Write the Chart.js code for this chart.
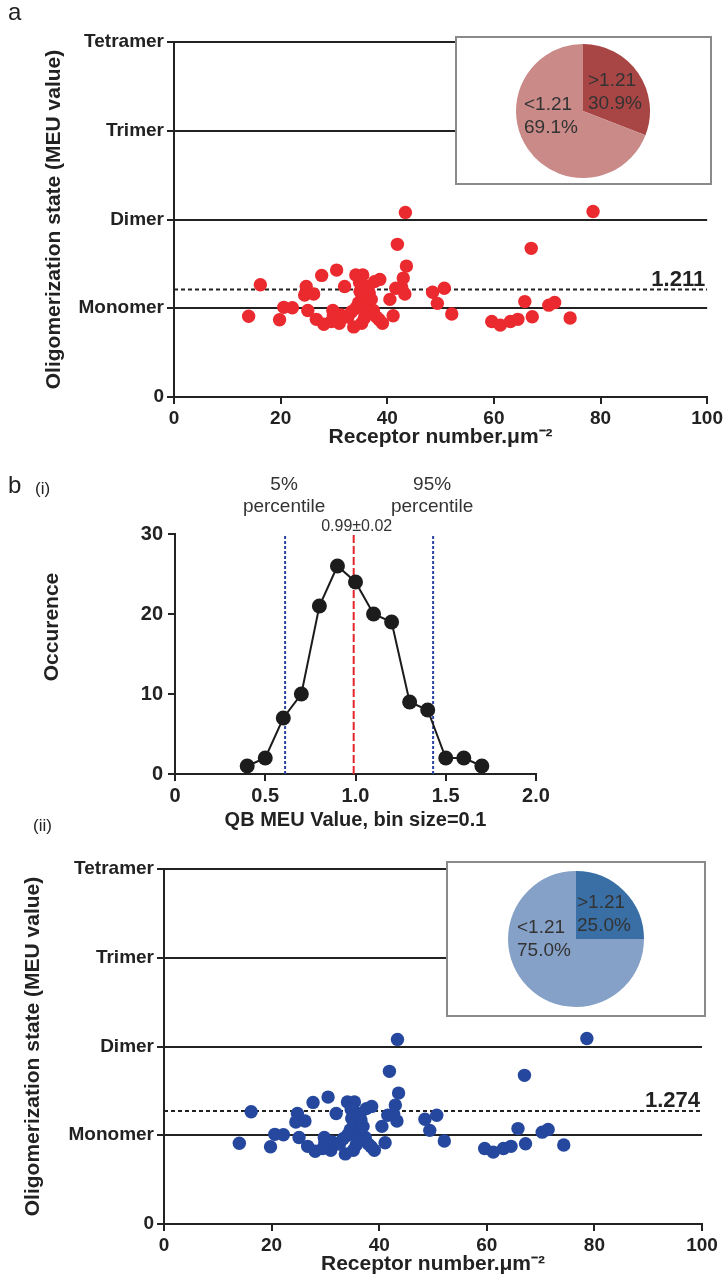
<!DOCTYPE html>
<html><head><meta charset="utf-8">
<script src="https://cdn.jsdelivr.net/npm/chart.js@4/dist/chart.umd.min.js"></script>
<style>
html,body{margin:0;padding:0;background:#fff;overflow:hidden;width:726px;height:1275px;}
#wrap{position:relative;width:726px;height:1275px;font-family:"Liberation Sans",Arial,sans-serif;color:#222;}
canvas{position:absolute;}
.box{position:absolute;border:2px solid #8a8a8a;background:#fff;box-sizing:border-box;}
.lbl{position:absolute;font-family:"Liberation Sans",Arial,sans-serif;color:#222;line-height:1;white-space:nowrap;}
</style></head><body>
<div id="wrap">
  <canvas id="cA" width="726" height="460" style="left:0;top:0"></canvas>
  <div class="box" style="left:455px;top:36px;width:257px;height:149px"></div>
  <canvas id="pA" width="140" height="140" style="left:513px;top:41px"></canvas>

  <canvas id="cH" width="726" height="366" style="left:0;top:470px"></canvas>

  <canvas id="cB" width="726" height="440" style="left:0;top:845px"></canvas>
  <div class="box" style="left:446px;top:861px;width:260px;height:156px"></div>
  <canvas id="pB" width="140" height="140" style="left:506px;top:869px"></canvas>

  <div class="lbl" style="left:8px;top:0px;font-size:24px">a</div>
  <div class="lbl" style="left:8px;top:473px;font-size:24px">b</div>
  <div class="lbl" style="left:35px;top:480px;font-size:17px">(i)</div>
  <div class="lbl" style="left:33px;top:817px;font-size:17px">(ii)</div>
</div>
<script>
// ---------- DATA ----------
const receptorDensity = [14.0,16.2,19.8,20.6,22.2,24.8,24.5,26.2,25.1,26.7,27.7,28.1,29.8,29.5,31.0,31.3,30.5,32.0,33.7,34.1,
  35.4,34.1,35.1,34.9,35.7,36.0,36.6,37.4,37.6,38.6,38.5,39.1,41.1,40.5,41.6,41.9,43.0,43.6,43.4,43.3,
  48.5,49.4,50.7,52.1,59.6,61.2,63.1,64.5,65.8,67.2,67.0,70.3,71.4,74.3,78.6,
  30.2,32.6,33.3,35.6,36.2,34.6,37.0,38.0,35.2,29.9,34.8,36.4,42.7];
const meuValue = [0.91,1.265,0.87,1.01,1.005,1.245,1.15,1.16,0.975,0.875,1.37,0.82,0.975,0.85,0.83,0.925,1.43,1.245,0.79,1.375,
  1.375,1.0,1.09,1.19,0.89,1.245,1.17,0.975,1.30,1.325,0.87,0.83,0.915,1.10,1.225,1.72,1.34,1.475,2.08,1.16,
  1.18,1.055,1.225,0.935,0.85,0.81,0.85,0.875,1.075,0.905,1.675,1.035,1.065,0.89,2.09,
  0.88,0.90,0.96,1.02,0.95,1.06,1.10,0.90,0.83,0.92,1.29,1.22,1.24];
const stateLabels = ['0','Monomer','Dimer','Trimer','Tetramer'];
const thresholdA = 1.211;
const thresholdB = 1.274;
const pieLabels = ['>1.21','<1.21'];
const pieA = [30.9, 69.1];
const pieB = [25.0, 75.0];
const binCenters = [0.4,0.5,0.6,0.7,0.8,0.9,1.0,1.1,1.2,1.3,1.4,1.5,1.6,1.7];
const occurrence = [1,2,7,10,21,26,24,20,19,9,8,2,2,1];
const percentile5 = 0.61;
const percentile95 = 1.43;
const meanMEU = 0.99;
const meanLabel = '0.99±0.02';

// ---------- STYLE ----------
const FONT = '"Liberation Sans", Arial, Helvetica, sans-serif';
Chart.defaults.font.family = FONT;
Chart.defaults.color = '#222';
const INK = '#222';

function thresholdPlugin(thr){
  return {id:'thr', afterDatasetsDraw(chart){
    const ctx = chart.ctx, y = chart.scales.y.getPixelForValue(thr);
    ctx.save();
    ctx.font = 'bold 22px ' + FONT;
    ctx.fillStyle = INK; ctx.textAlign = 'right'; ctx.textBaseline = 'alphabetic';
    ctx.fillText(thr.toFixed(3), chart.chartArea.right - 2, y - 4);
    ctx.restore();
  }};
}

function scatterChart(id, o){
  const pts = receptorDensity.map((x,i)=>({x, y: meuValue[i]}));
  return new Chart(document.getElementById(id), {
    type:'scatter',
    data:{datasets:[
      {data: pts, backgroundColor:o.color, borderWidth:0, pointRadius:6.7, pointHoverRadius:6.7, order:0, clip:false},
      {type:'line', data:[{x:0,y:o.thr},{x:100,y:o.thr}], borderColor:INK, borderWidth:2, borderDash:[4,3],
       pointRadius:0, fill:false, order:1}
    ]},
    options:{
      responsive:false, animation:false, events:[],
      layout:{padding:{top:o.top, right:o.W - o.right, left:0, bottom:0}},
      plugins:{legend:{display:false}, tooltip:{enabled:false}},
      scales:{
        x:{type:'linear', min:0, max:100,
           ticks:{stepSize:20, font:{size:19, weight:'bold'}, color:INK, padding:3},
           grid:{drawOnChartArea:false, drawTicks:true, tickLength:7, tickColor:INK, tickWidth:2, color:INK, lineWidth:2},
           border:{display:true, color:INK, width:2},
           title:{display:true, text:'Receptor number.μm⁻²', font:{size:21, weight:'bold'}, color:INK,
                  padding:{top:0, bottom:o.xtPad}},
           afterFit: s => { s.height = o.H - o.bottom; }},
        y:{type:'linear', min:0, max:4,
           ticks:{stepSize:1, callback: v => stateLabels[v], font:{size:19, weight:'bold'}, color:INK, padding:3},
           grid:{drawOnChartArea:true, drawTicks:true, tickLength:7, tickColor:INK, tickWidth:2, color:INK, lineWidth:2},
           border:{display:true, color:INK, width:2},
           title:{display:true, text:'Oligomerization state (MEU value)', font:{size:21, weight:'bold'}, color:INK,
                  padding:{top:o.ytPad, bottom:0}},
           afterFit: s => { s.width = o.left; }}
      }
    },
    plugins:[thresholdPlugin(o.thr)]
  });
}

function pieChart(id, values, colors, pad, offs){
  const lab = {id:'pielab', afterDraw(chart){
    const ca = chart.chartArea, cx = (ca.left+ca.right)/2, cy = (ca.top+ca.bottom)/2;
    const ctx = chart.ctx;
    ctx.save();
    ctx.font = '19px ' + FONT; ctx.fillStyle = '#333'; ctx.textAlign = 'left'; ctx.textBaseline = 'middle';
    values.forEach((v,i)=>{
      const p = offs[i];
      ctx.fillText(pieLabels[i], cx + p[0], cy + p[1]);
      ctx.fillText(v.toFixed(1) + '%', cx + p[0], cy + p[1] + 23);
    });
    ctx.restore();
  }};
  return new Chart(document.getElementById(id), {
    type:'pie',
    data:{labels:pieLabels, datasets:[{data:values, backgroundColor:colors, borderWidth:0}]},
    options:{responsive:false, animation:false, events:[], layout:{padding:pad},
             plugins:{legend:{display:false}, tooltip:{enabled:false}}},
    plugins:[lab]
  });
}

// Panel a
scatterChart('cA', {W:726, H:460, top:42, right:709, left:174, bottom:397, thr:thresholdA, color:'#EA2A2E', xtPad:10, ytPad:42});
pieChart('pA', pieA, ['#A84545','#C98A88'], 3, [[5,-30],[-59,-6]]);

// Panel b(ii)  (canvas top = 845)
scatterChart('cB', {W:726, H:440, top:24, right:702, left:164, bottom:379, thr:thresholdB, color:'#25479D', xtPad:8, ytPad:21});
pieChart('pB', pieB, ['#3A6FA6','#86A1C8'], 2, [[1,-36],[-59,-11]]);

// Panel b(i)  (canvas top = 470)
const histLabels = {id:'histlab', afterDraw(chart){
  const ctx = chart.ctx, xs = chart.scales.x;
  ctx.save();
  ctx.fillStyle = '#333'; ctx.textAlign = 'center'; ctx.textBaseline = 'middle';
  ctx.font = '19px ' + FONT;
  const x5 = xs.getPixelForValue(percentile5) - 1, x95 = xs.getPixelForValue(percentile95) - 1;
  ctx.fillText('5%', x5, 15); ctx.fillText('percentile', x5, 37);
  ctx.fillText('95%', x95, 15); ctx.fillText('percentile', x95, 37);
  ctx.font = '16px ' + FONT;
  ctx.fillText(meanLabel, xs.getPixelForValue(meanMEU) + 3, 57);
  ctx.fillStyle = INK;
  ctx.font = 'bold 21px ' + FONT;
  ctx.translate(52, 157); ctx.rotate(-Math.PI/2);
  ctx.fillText('Occurence', 0, 0);
  ctx.restore();
}};
new Chart(document.getElementById('cH'), {
  type:'line',
  data:{datasets:[
    {data: binCenters.map((x,i)=>({x, y: occurrence[i]})), borderColor:'#1c1c1c', borderWidth:2,
     pointRadius:7.5, pointHoverRadius:7.5, pointBackgroundColor:'#1c1c1c', pointBorderWidth:0, tension:0, order:0, clip:false},
    {data:[{x:percentile5,y:0},{x:percentile5,y:30}], borderColor:'#2B43A0', borderWidth:2, borderDash:[3,2], pointRadius:0, order:1},
    {data:[{x:percentile95,y:0},{x:percentile95,y:30}], borderColor:'#2B43A0', borderWidth:2, borderDash:[3,2], pointRadius:0, order:1},
    {data:[{x:meanMEU,y:0},{x:meanMEU,y:30}], borderColor:'#E4262B', borderWidth:2, borderDash:[8,3], pointRadius:0, order:1}
  ]},
  options:{
    responsive:false, animation:false, events:[],
    layout:{padding:{top:64, right:190, left:0, bottom:0}},
    plugins:{legend:{display:false}, tooltip:{enabled:false}},
    scales:{
      x:{type:'linear', min:0, max:2,
         ticks:{stepSize:0.5, callback: v => v === 0 ? '0' : v.toFixed(1), font:{size:20, weight:'bold'}, color:INK, padding:3},
         grid:{drawOnChartArea:false, drawTicks:true, tickLength:7, tickColor:INK, tickWidth:2, color:INK, lineWidth:2},
         border:{display:true, color:INK, width:2},
         title:{display:true, text:'QB MEU Value, bin size=0.1', font:{size:20, weight:'bold'}, color:INK, padding:{top:0,bottom:4}},
         afterFit: s => { s.height = 366 - 304; }},
      y:{type:'linear', min:0, max:30,
         ticks:{stepSize:10, font:{size:20, weight:'bold'}, color:INK, padding:5},
         grid:{drawOnChartArea:false, drawTicks:true, tickLength:7, tickColor:INK, tickWidth:2, color:INK, lineWidth:2},
         border:{display:true, color:INK, width:2},
         afterFit: s => { s.width = 175; }}
    }
  },
  plugins:[histLabels]
});
</script>
</body></html>
